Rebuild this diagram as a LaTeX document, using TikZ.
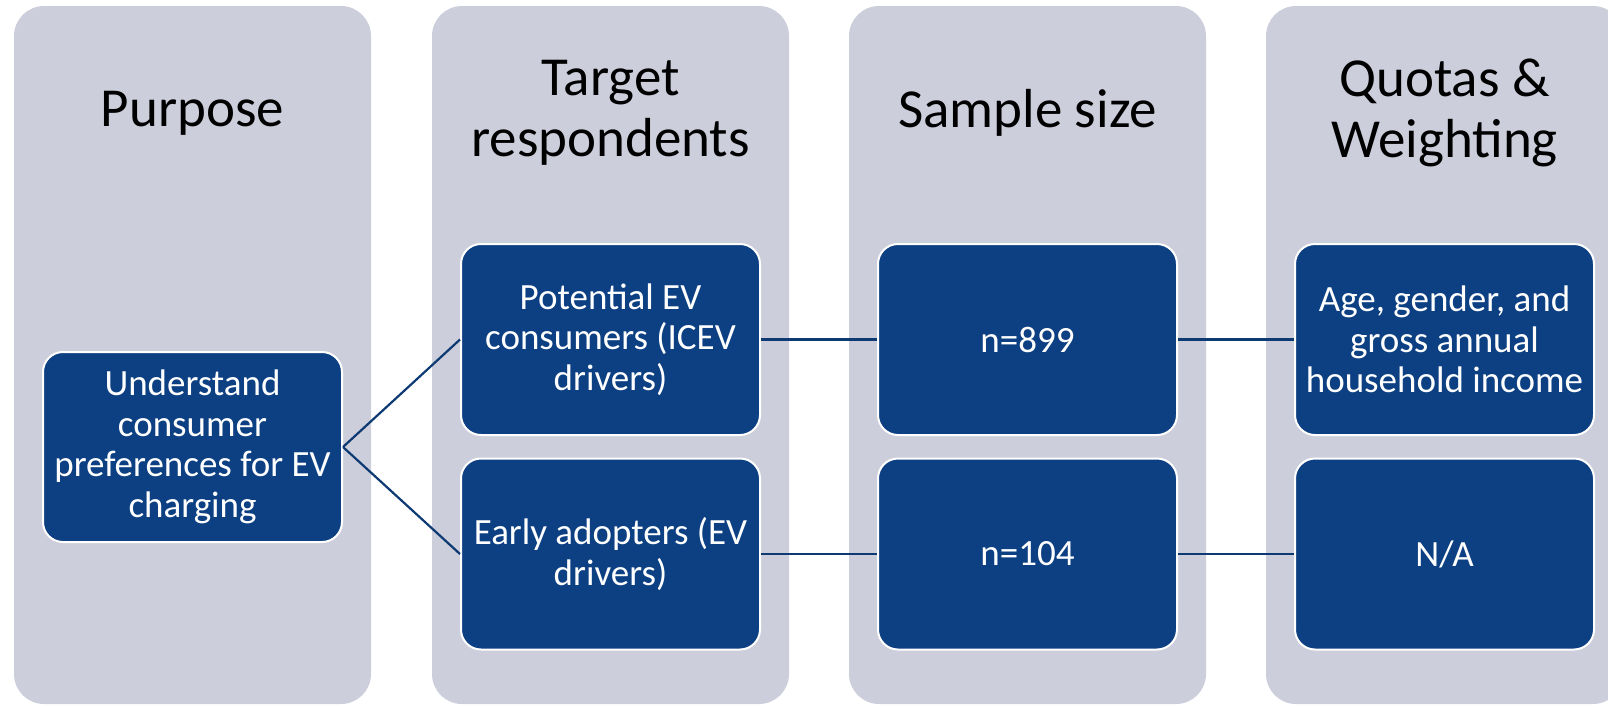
\documentclass[tikz,border=0pt]{standalone}
\usepackage{fontspec}
\setmainfont{Carlito}
\definecolor{colgrey}{RGB}{204,206,219}
\definecolor{navy}{RGB}{12,64,130}
\definecolor{linkblue}{RGB}{14,58,115}
\begin{document}
\begin{tikzpicture}[x=1pt,y=-1pt,
  col/.style={fill=colgrey, rounded corners=30pt},
  head/.style={font=\fontsize{55}{60.5}\selectfont, align=center, text=black, inner sep=0pt},
  item/.style={draw=white, line width=2pt, fill=navy, rounded corners=20pt, text=white, align=center,
    minimum width=299pt, minimum height=191pt, inner sep=0pt, font=\fontsize{37}{40.6}\selectfont},
  link/.style={draw=linkblue, line width=2.2pt}]
\useasboundingbox (0,0) rectangle (1608,705);
\clip (0,0) rectangle (1608,705);
% columns
\fill[col] (14,6) rectangle (371,704);
\fill[col] (432,6) rectangle (789,704);
\fill[col] (849,6) rectangle (1206,704);
\fill[col] (1266,6) rectangle (1623,704);
% headings
\node[head] (h1) at (192.5,113) {Purpose};
\node[head] (h2) at (610.5,113) {Target\\respondents};
\node[head] (h3) at (1027.5,113) {Sample size};
\node[head] (h4) at (1444.5,113) {Quotas \&\\Weighting};
% boxes
\node[item, minimum height=190pt] (p) at (192.5,447) {Understand\\consumer\\preferences for EV\\charging};
\node[item] (t1) at (610.5,339.5) {Potential EV\\consumers (ICEV\\drivers)};
\node[item] (t2) at (610.5,554) {Early adopters (EV\\drivers)};
\node[item] (s1) at (1027.5,339.5) {n=899};
\node[item] (s2) at (1027.5,554) {n=104};
\node[item] (q1) at (1444.5,339.5) {Age, gender, and\\gross annual\\household income};
\node[item] (q2) at (1444.5,554) {N/A};
% links
\draw[link] (p.east) -- (t1.west);
\draw[link] (p.east) -- (t2.west);
\draw[link] (t1.east) -- (s1.west);
\draw[link] (t2.east) -- (s2.west);
\draw[link] (s1.east) -- (q1.west);
\draw[link] (s2.east) -- (q2.west);
\end{tikzpicture}
\end{document}
